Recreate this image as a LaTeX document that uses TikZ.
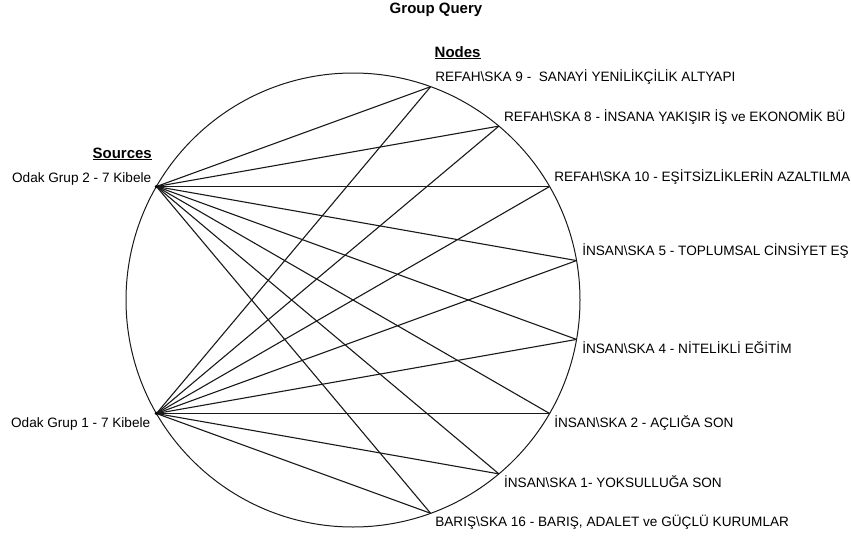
\documentclass[tikz,border=0pt]{standalone}
\usepackage{fontspec}
\setmainfont{Liberation Sans}
\usetikzlibrary{calc}
\begin{document}
\begin{tikzpicture}[x=1pt,y=-1pt,
  lbl/.style={inner sep=0pt,font=\fontsize{13.6}{15}\selectfont},
  ttl/.style={inner sep=0pt,font=\fontsize{15}{17}\selectfont\bfseries},
  edge/.style={draw=black!90,line width=1.1pt}]
\useasboundingbox (0,0) rectangle (851,538);
\coordinate (c) at (353,300);
\draw[edge,line width=1pt] (c) circle[radius=227];
% sources (math angles 150 and 210; y axis points down)
\coordinate (s2) at ($(c)+(-150:227)$);
\coordinate (s1) at ($(c)+(150:227)$);
% nodes
\coordinate (n9)  at ($(c)+(-70:227)$);
\coordinate (n8)  at ($(c)+(-50:227)$);
\coordinate (n10) at ($(c)+(-30:227)$);
\coordinate (n5)  at ($(c)+(-10:227)$);
\coordinate (n4)  at ($(c)+(10:227)$);
\coordinate (n2)  at ($(c)+(30:227)$);
\coordinate (n1)  at ($(c)+(50:227)$);
\coordinate (n16) at ($(c)+(70:227)$);
% edges
\foreach \s in {s1,s2}{
  \foreach \n in {n9,n8,n10,n5,n4,n2,n1,n16}{
    \draw[edge] (\s) -- (\n);
  }
}
\fill[black] (s1) circle[radius=1.8];
\fill[black] (s2) circle[radius=1.8];
% titles
\node[ttl] (title) at (436,10) {Group Query};
\node[ttl,anchor=base west] (nodeshdr) at (434.5,57) {\underline{Nodes}};
\node[ttl,anchor=base east] (srchdr) at (152,158) {\underline{Sources}};
% source labels
\node[lbl,anchor=base east] (ls2) at ($(s2)+(-5,-4.5)$) {Odak Grup 2 - 7 Kibele};
\node[lbl,anchor=base east] (ls1) at ($(s1)+(-6,14)$) {Odak Grup 1 - 7 Kibele};
% node labels
\node[lbl,anchor=base west] (l9)  at ($(n9)+(4.5,-5)$)  {REFAH\textbackslash SKA 9 -\ \ SANAYİ YENİLİKÇİLİK ALTYAPI};
\node[lbl,anchor=base west] (l8)  at ($(n8)+(5,-5)$)  {REFAH\textbackslash SKA 8 - İNSANA YAKIŞIR İŞ ve EKONOMİK BÜ};
\node[lbl,anchor=base west] (l10) at ($(n10)+(4.5,-5)$) {REFAH\textbackslash SKA 10 - EŞİTSİZLİKLERİN AZALTILMA};
\node[lbl,anchor=base west] (l5)  at ($(n5)+(5.5,-5)$)  {İNSAN\textbackslash SKA 5 - TOPLUMSAL CİNSİYET EŞ};
\node[lbl,anchor=base west] (l4)  at ($(n4)+(5.5,14)$)  {İNSAN\textbackslash SKA 4 - NİTELİKLİ EĞİTİM};
\node[lbl,anchor=base west] (l2)  at ($(n2)+(4.5,14)$)  {İNSAN\textbackslash SKA 2 - AÇLIĞA SON};
\node[lbl,anchor=base west] (l1)  at ($(n1)+(5,14)$)  {İNSAN\textbackslash SKA 1- YOKSULLUĞA SON};
\node[lbl,anchor=base west] (l16) at ($(n16)+(4.5,13.5)$) {BARIŞ\textbackslash SKA 16 - BARIŞ, ADALET ve GÜÇLÜ KURUMLAR};
\end{tikzpicture}
\end{document}
